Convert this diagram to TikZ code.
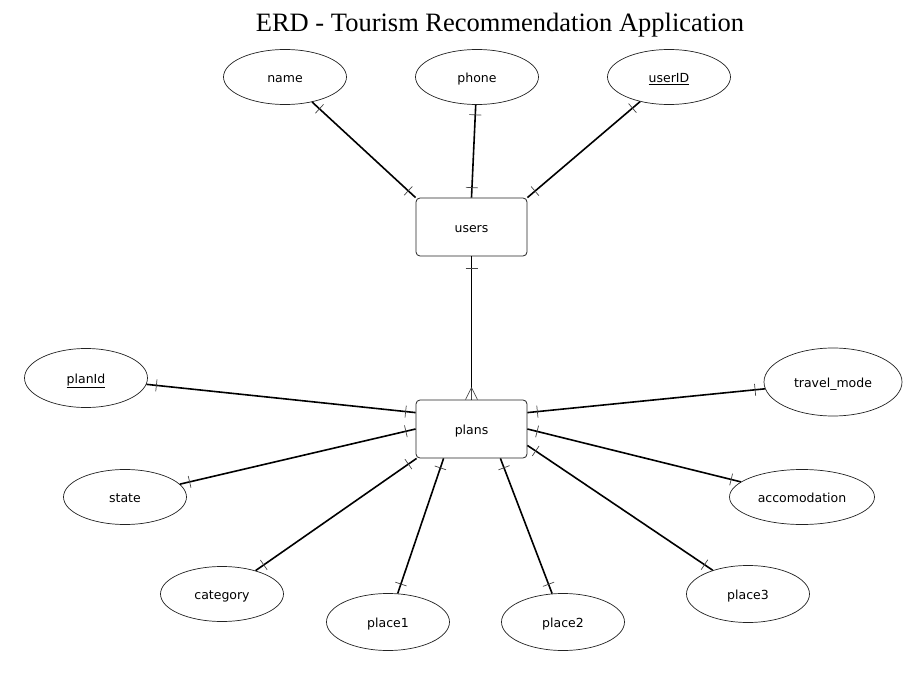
\documentclass[tikz,border=0pt]{standalone}
\usepackage{fontspec}
\setmainfont{Liberation Serif}
\newfontfamily\attfont{DejaVu Sans}
\usetikzlibrary{decorations.markings, positioning, shapes}
\definecolor{LNE}{HTML}{222222}
\definecolor{TCK}{HTML}{444444}
\tikzset{
  ENT/.style={% Style for entity boxes
      rectangle, rounded corners=4pt,
      line width=0.8pt,
      draw=LNE, fill=white,
      minimum width=111pt,
      minimum height=58pt,
      text height=10.5pt, text depth=0pt,
      font=\attfont\fontsize{12.5}{14}\selectfont,
  },
  ATT/.style={% Style for attribute ellipses
      ellipse,
      line width=0.7pt,
      draw=LNE, fill=white,
      minimum width=123pt,
      minimum height=55pt,
      text height=10.5pt, text depth=0pt,
      font=\attfont\fontsize{12.5}{14}\selectfont,
  },
  REL/.style={% one-to-one connector, ticks at both ends
      line width=1.6pt, black,
      postaction={decorate},
      decoration={markings,
        mark=at position 10pt with {\draw[line width=0.7pt, TCK] (0,-6pt) -- (0,6pt);},
        mark=at position -10pt with {\draw[line width=0.7pt, TCK] (0,-6pt) -- (0,6pt);}
      }
  },
  MANY/.style={% one-to-many connector, crow's foot at the end
      line width=1.6pt, black,
      postaction={decorate},
      decoration={markings,
        mark=at position 12pt with {\draw[line width=0.7pt, TCK] (0,-6pt) -- (0,6pt);},
        mark=at position -12pt with {\draw[line width=0.7pt, TCK] (0,0) -- (12pt,6pt) (0,0) -- (12pt,0) (0,0) -- (12pt,-6pt);}
      }
  }
}

\begin{document}
\begin{tikzpicture}[x=1pt, y=-1pt]
  \useasboundingbox (0,0) rectangle (922,690);
  \node[font=\fontsize{26.5}{30}\selectfont] (title) at (500,25) {ERD - Tourism Recommendation Application};

  % entities
  \node[ENT] (users) at (471.5,227) {users};
  \node[ENT] (plans) at (471.5,429) {plans};

  % attributes of users
  \node[ATT] (name) at (285,77) {name};
  \node[ATT] (phone) at (477,77) {phone};
  \node[ATT] (userID) at (669,77) {\underline{userID}};

  % attributes of plans
  \node[ATT, minimum height=59pt] (planId) at (86,378) {\underline{planId}};
  \node[ATT, minimum width=138pt, minimum height=68pt] (travel_mode) at (833,382) {travel\_mode};
  \node[ATT] (state) at (125,497) {state};
  \node[ATT, minimum width=145pt] (accomodation) at (802,497) {accomodation};
  \node[ATT] (category) at (222,594) {category};
  \node[ATT, minimum height=57pt] (place1) at (388,622) {place1};
  \node[ATT, minimum height=57pt] (place2) at (563,622) {place2};
  \node[ATT, minimum height=57pt] (place3) at (748,594) {place3};

  % where the connectors meet the plans box
  \coordinate (pPlanId) at ([yshift=-13pt]plans.north west);
  \coordinate (pState) at (plans.west);
  \coordinate (pCategory) at ([xshift=1pt]plans.south west);
  \coordinate (pPlace1) at ([xshift=28pt]plans.south west);
  \coordinate (pPlace2) at ([xshift=-27pt]plans.south east);
  \coordinate (pPlace3) at ([yshift=13pt]plans.south east);
  \coordinate (pAccomodation) at (plans.east);
  \coordinate (pTravel) at ([yshift=-13pt]plans.north east);

  % connectors
  \draw[REL] (name) -- (users.north west);
  \draw[REL] (phone) -- (users.north);
  \draw[REL] (userID) -- (users.north east);
  \draw[MANY] (users.south) -- (plans.north);
  \foreach \att/\pt in {planId/pPlanId, state/pState, category/pCategory,
      place1/pPlace1, place2/pPlace2, place3/pPlace3,
      accomodation/pAccomodation, travel_mode/pTravel} {
    \draw[REL] (\att) -- (\pt);
  }
\end{tikzpicture}
\end{document}
